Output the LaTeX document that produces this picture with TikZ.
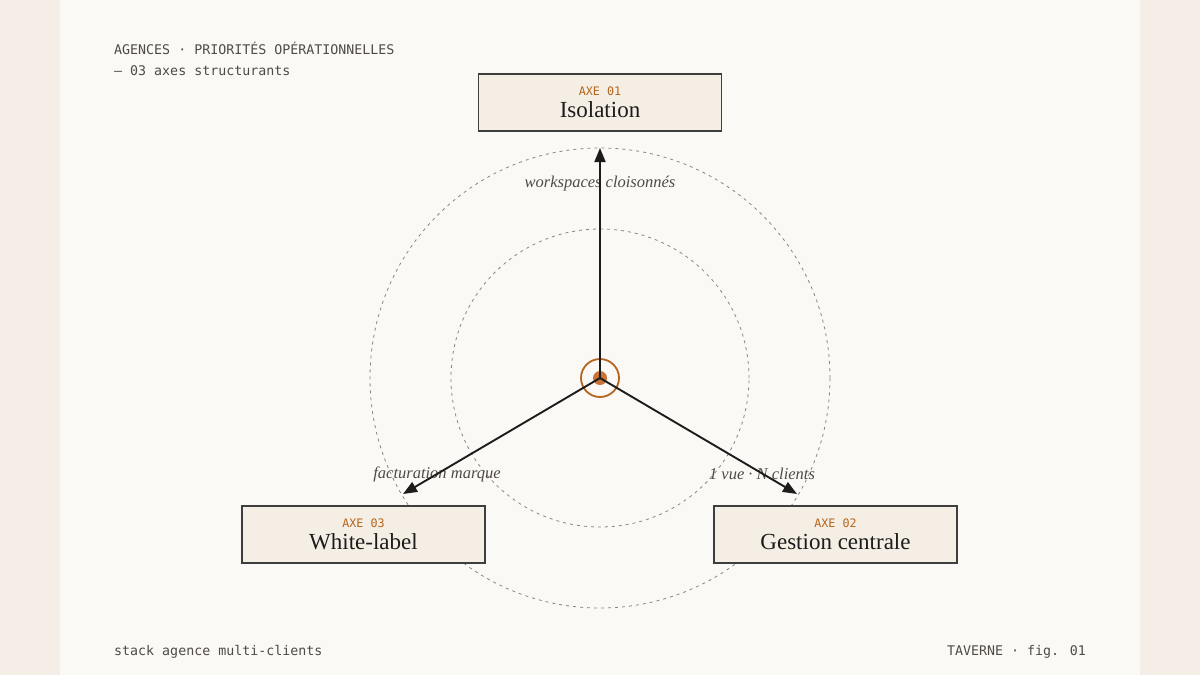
\documentclass[tikz,border=0pt]{standalone}
\usepackage{fontspec}
\setmainfont{Liberation Serif}
\newfontfamily\monofont{DejaVu Sans Mono}
\usetikzlibrary{arrows.meta,positioning}

\definecolor{pagebg}{HTML}{F5EEE6}
\definecolor{panel}{HTML}{FBF9F5}
\definecolor{boxfill}{HTML}{F5EEE4}
\definecolor{ink}{HTML}{1C1C1C}
\definecolor{accent}{HTML}{B5651D}
\definecolor{dotfill}{HTML}{C8733A}
\definecolor{labgray}{HTML}{4F4A44}
\definecolor{gridgray}{HTML}{8A857E}

\newcommand{\axe}[1]{{\monofont\fontsize{11.7}{14}\selectfont\color{accent}#1}}

\tikzstyle{axis} = [rectangle, minimum width=243pt, minimum height=57pt, align=center, draw=ink!85, line width=1.3pt, fill=boxfill, inner sep=0pt, text=ink, font=\fontsize{23}{22}\selectfont]
\tikzstyle{spoke} = [line width=1.9pt, draw=ink, -{Triangle[length=14pt,width=11pt]}]
\tikzstyle{ring} = [draw=gridgray, line width=0.8pt, dash pattern=on 3pt off 4pt]
\tikzstyle{tag} = [font=\itshape\fontsize{16.5}{18}\selectfont, text=labgray, inner sep=1pt]
\tikzstyle{meta} = [font=\monofont\fontsize{13.3}{16}\selectfont, text=labgray, anchor=base west, inner sep=0pt]
\tikzstyle{hubring} = [circle, minimum size=38pt, inner sep=0pt, draw=accent, line width=1.8pt]
\tikzstyle{hubdot} = [circle, minimum size=14pt, inner sep=0pt, fill=dotfill]

\begin{document}
\begin{tikzpicture}[x=1pt,y=-1pt]
      \fill[pagebg] (0,0) rectangle (1200,675);
      \fill[panel] (60,0) rectangle (1140,675);
      \useasboundingbox (0,0) rectangle (1200,675);

      \node (head) [meta] at (114,54) {AGENCES · PRIORITÉS OPÉRATIONNELLES};
      \node (sub) [meta] at (114,75) {— 03 axes structurants};

      \draw[ring] (600,378) circle [radius=149pt];
      \draw[ring] (600,378) circle [radius=230pt];

      \node (hub) [hubring] at (600,378) {};
      \node (core) [hubdot] at (hub.center) {};

      \coordinate (tipN) at (600,148);
      \coordinate (tipW) at (403,494);
      \coordinate (tipE) at (797,494);

      \node (iso) [axis] at (600,102.5) {\axe{AXE 01}\\Isolation};
      \node (wl) [axis] at (363.5,534.5) {\axe{AXE 03}\\White-label};
      \node (gc) [axis] at (835.5,534.5) {\axe{AXE 02}\\Gestion centrale};

      \node (lblN) [tag] at (600,184) {workspaces cloisonnés};
      \node (lblW) [tag] at (437,474) {facturation marque};
      \node (lblE) [tag] at (762,474) {1 vue · N clients};

      \draw [spoke] (hub.center) -- (tipN);
      \draw [spoke] (hub.center) -- (tipW);
      \draw [spoke] (hub.center) -- (tipE);

      \node (foot) [meta] at (114,655) {stack agence multi-clients};
      \node (sig) [meta, anchor=base east] at (1086,655) {TAVERNE · fig. 01};
    \end{tikzpicture}
\end{document}
